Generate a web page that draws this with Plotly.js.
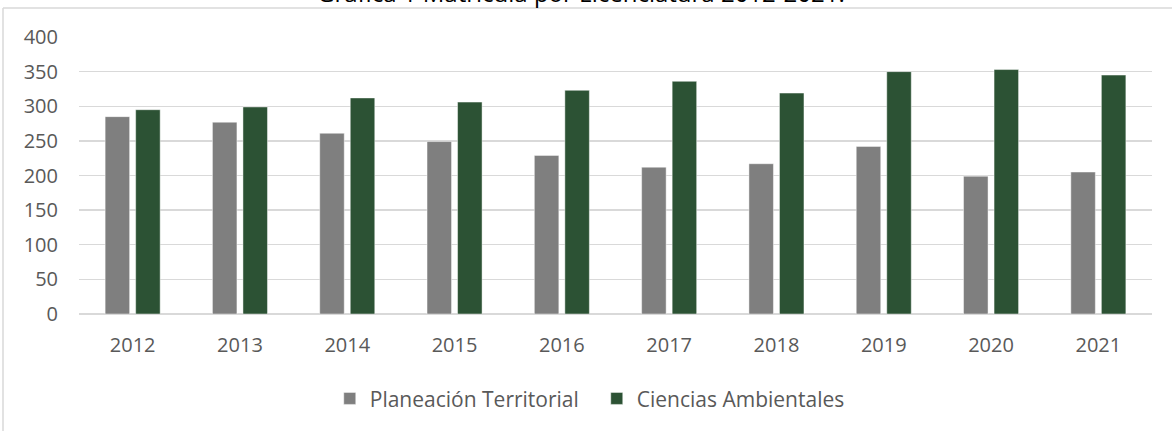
<!DOCTYPE html>
<html>
<head>
<meta charset="utf-8">
<script src="https://cdn.plot.ly/plotly-3.0.1.min.js"></script>
<style>html,body{margin:0;padding:0;background:#fff;}#chart{width:1172px;height:431px;}</style>
</head>
<body>
<div id="chart"></div>
<script>
const years = ['2012','2013','2014','2015','2016','2017','2018','2019','2020','2021'];
const planeacion = [285, 277, 261, 249, 229, 212, 217, 242, 199, 205];
const ciencias = [295, 299, 312, 306, 323, 336, 319, 350, 353, 345];
const seriesNames = ['Planeación Territorial', 'Ciencias Ambientales'];
const yTicks = [0, 50, 100, 150, 200, 250, 300, 350, 400];
const titleText = 'Gráfica 1 Matrícula por Licenciatura 2012-2021.';

const FONT = 'Open Sans, Liberation Sans, sans-serif';
const TXT = '#595959';

const traces = [
  {type:'bar', name: seriesNames[0], x: years, y: planeacion,
   marker:{color:'#7f7f7f', line:{color:'rgba(255,255,255,0.45)', width:1}}, hoverinfo:'none'},
  {type:'bar', name: seriesNames[1], x: years, y: ciencias,
   marker:{color:'#2c5234', line:{color:'rgba(255,255,255,0.45)', width:1}}, hoverinfo:'none'}
];

const layout = {
  width:1172, height:431,
  margin:{l:79, r:20, t:37, b:117},
  paper_bgcolor:'#fff', plot_bgcolor:'#fff',
  barmode:'group', bargap:0.431, bargroupgap:0.197,
  showlegend:true,
  font:{family:FONT, color:TXT, size:20},
  xaxis:{type:'category', showgrid:false, zeroline:false, showline:false, ticks:'',
         tickfont:{family:FONT, size:20, color:TXT}, ticklabelstandoff:17, fixedrange:true},
  yaxis:{range:[0,400], tickvals:yTicks, ticktext:yTicks.map(String), showgrid:true,
         gridcolor:'#d9d9d9', gridwidth:1.3, zeroline:true, zerolinecolor:'#d9d9d9', zerolinewidth:1.3,
         showline:false, ticks:'', tickfont:{family:FONT, size:20, color:TXT}, ticklabelstandoff:20, fixedrange:true},
  legend:{orientation:'h', x:0.2337, xanchor:'left', y:-0.232, yanchor:'top',
          font:{family:FONT, size:21, color:TXT}, itemwidth:30, traceorder:'normal',
          entrywidth:222, entrywidthmode:'pixels'},
  shapes:[
    {type:'line', xref:'paper', yref:'paper', x0:(3-79)/1073, x1:1.2, y0:1+(37-8)/277, y1:1+(37-8)/277,
     line:{color:'#d9d9d9', width:1.5}},
    {type:'line', xref:'paper', yref:'paper', x0:(3-79)/1073, x1:(3-79)/1073, y0:1+(37-8)/277, y1:-0.5,
     line:{color:'#d9d9d9', width:1.5}}
  ],
  annotations:[
    {text:titleText, xref:'paper', yref:'paper', x:(581-79)/1073, y:1+(37-11)/277, xanchor:'center', yanchor:'bottom',
     showarrow:false, font:{family:FONT, size:24, color:'#000'}}
  ]
};

Plotly.newPlot('chart', traces, layout, {displayModeBar:false, staticPlot:true});
</script>
</body>
</html>
